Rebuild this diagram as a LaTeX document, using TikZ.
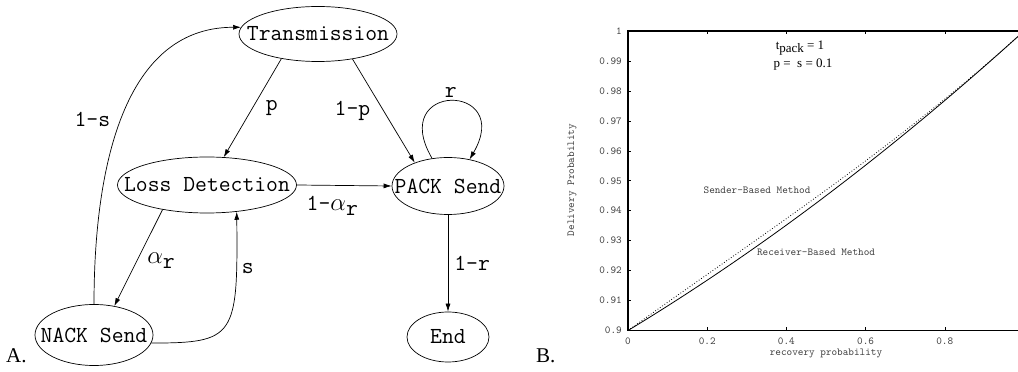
\documentclass[tikz,border=0pt]{standalone}
\usepackage{fontspec}
\setmainfont{Liberation Serif}
\usetikzlibrary{arrows.meta,positioning,shapes.geometric,calc}

\begin{document}
\begin{tikzpicture}[x=1pt, y=1pt,
    state/.style={draw, ellipse, inner sep=0pt, line width=0.7pt},
    arr/.style={-{Latex[length=8pt,width=5pt]}, line width=0.7pt},
    lbl/.style={font=\fontsize{23}{26}\selectfont\ttfamily, inner sep=2pt},
    every label/.style={font=\fontsize{23}{26}\selectfont\ttfamily, inner sep=0pt},
    ticklbl/.style={font=\fontsize{10.7}{12}\selectfont\ttfamily, text=black!75, inner sep=0pt},
    note/.style={font=\fontsize{13}{15}\selectfont},
    panel/.style={font=\fontsize{21}{24}\selectfont, inner sep=0pt},
  ]
    \useasboundingbox (0,0) rectangle (1018,372);

    % A: state diagram
    \node[state, minimum width=158pt, minimum height=55pt, label=center:Transmission] (trans) at (318,338) {};
    \node[state, minimum width=179pt, minimum height=56pt, label=center:Loss Detection] (loss) at (207,187) {};
    \node[state, minimum width=118pt, minimum height=61pt, label=center:NACK Send] (nack) at (94,37) {};
    \node[state, minimum width=112pt, minimum height=57pt, label=center:PACK Send] (pack) at (448,186) {};
    \node[state, minimum width=82pt, minimum height=50pt, label=center:End] (end) at (448,35) {};

    \draw[arr] (trans.214) -- node[lbl, right=11pt] {p} (loss.59);
    \draw[arr] (trans.324) -- node[lbl, left=11pt] {1-p} (pack.145);
    \draw[arr] (loss.east) -- node[lbl, below=8pt, xshift=-12pt] {1-$\alpha$\raisebox{-5pt}{r}} (pack.west);
    \draw[arr] (loss.209) -- node[lbl, right=8pt, pos=0.53] {$\alpha$\raisebox{-5pt}{r}} (nack.55);
    \draw[arr] (nack.352) .. controls (235,29) and (238,35) .. node[lbl, right=3pt, pos=0.82] {s} (loss.318);
    \draw[arr] (nack.north) to[out=90, in=180] node[lbl, left=9pt] {1-s} (trans.175);
    \draw[arr] (pack.120) .. controls +(-45,77) and +(45,77) .. node[lbl, above=1pt] {r} (pack.51);
    \draw[arr] (pack.south) -- node[lbl, right=4pt] {1-r} (end.north);

    \node[panel, anchor=base west] (pa) at (6,9) {A.};
    \node[panel, anchor=base west] (pb) at (536,9) {B.};

    % B: delivery probability plot
    \draw[line width=1.1pt] (1030,341) -- (628,341) -- (628,41.5) -- (1030,41.5);
    \foreach \k/\t in {0/0.9,1/0.91,2/0.92,3/0.93,4/0.94,5/0.95,6/0.96,7/0.97,8/0.98,9/0.99,10/1} {
      \draw[line width=0.5pt] (628,{41.5+29.95*\k}) -- ++(3,0);
      \node[ticklbl, anchor=east] at (622,{41.5+29.95*\k}) {\t};
    }
    \foreach \k/\t in {0/0,1/0.2,2/0.4,3/0.6,4/0.8} {
      \draw[line width=0.5pt] ({628+79.2*\k},41.5) -- ++(0,3);
      \draw[line width=0.5pt] ({628+79.2*\k},341) -- ++(0,-3);
      \node[ticklbl] at ({628+79.2*\k},31) {\t};
    }
    \node[ticklbl] (xlab) at (826,19) {recovery probability};
    \node[ticklbl, rotate=90] (ylab) at (572,192) {Delivery Probability};

    \draw[line width=0.8pt] plot[domain=0:0.99, samples=60, smooth]
      ({628+396*\x}, {41.5+299.5*(0.8*\x+0.2*\x*\x)});
    \draw[line width=0.8pt, dotted] plot[domain=0:0.99, samples=60, smooth]
      ({628+396*\x}, {41.5+299.5*(0.8*\x+0.2*\x*\x+0.15*\x*(1-\x)*(1-\x))});

    \node[ticklbl] (snd) at (757,182) {Sender-Based Method};
    \node[ticklbl] (rcv) at (816,119.3) {Receiver-Based Method};
    \node[note] (tpk) at (800,324) {t\raisebox{-3pt}{pack} = 1};
    \node[note] (pso) at (803,307) {p =\ \ s = 0.1};
\end{tikzpicture}
\end{document}
